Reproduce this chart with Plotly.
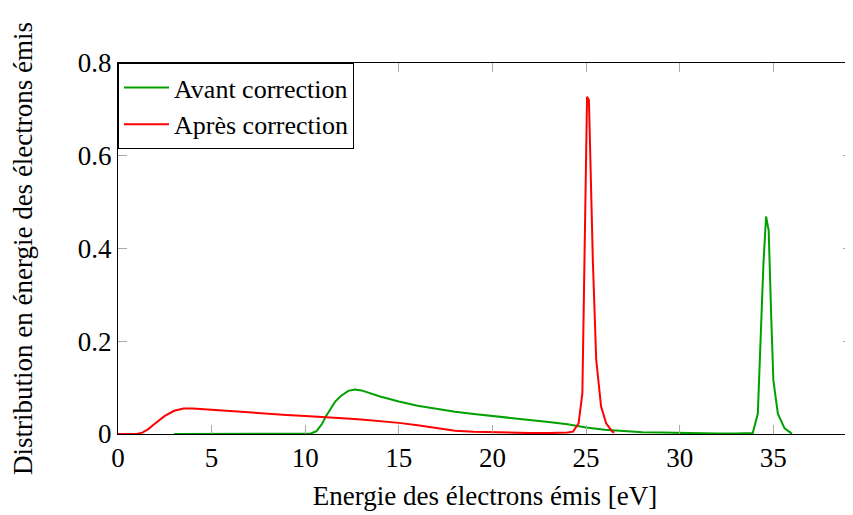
import plotly.graph_objects as go

# "Avant correction" (green)
avant_x = [3, 10, 10.3, 10.6, 10.9, 11.1, 11.3, 11.6, 11.9, 12.3, 12.65, 13, 14, 15, 16, 17,
           18, 19, 20, 21, 22, 23, 24, 25, 26, 27, 28, 29, 30, 31, 32, 33, 33.9,
           34.17, 34.31, 34.47, 34.61, 34.75, 34.88, 35.0, 35.24, 35.6, 35.95, 36.0]
avant_y = [0, 0, 0.001, 0.006, 0.022, 0.038, 0.052, 0.070, 0.082, 0.093, 0.096, 0.094, 0.081,
           0.070, 0.061, 0.054, 0.048, 0.043, 0.039, 0.034, 0.030, 0.026, 0.021, 0.014,
           0.009, 0.006, 0.004, 0.003, 0.002, 0.002, 0.001, 0.001, 0.002,
           0.044, 0.188, 0.367, 0.469, 0.439, 0.26, 0.116, 0.044, 0.012, 0.002, 0.001]

# "Après correction" (red)
apres_x = [0, 0.5, 1.0, 1.3, 1.6, 2.0, 2.5, 3.0, 3.5, 4, 5, 6, 7, 8, 9, 10, 11, 12, 13, 14,
           15, 16, 17, 18, 19, 20, 21, 22, 23, 24, 24.3, 24.6, 24.8, 24.88, 24.97, 25.05,
           25.15, 25.22, 25.36, 25.54, 25.8, 26.07, 26.4, 26.5]
apres_y = [0, 0, 0.0, 0.003, 0.01, 0.023, 0.039, 0.05, 0.055, 0.055, 0.052, 0.049, 0.046,
           0.043, 0.041, 0.039, 0.037, 0.034, 0.031, 0.028, 0.024, 0.019, 0.013, 0.007,
           0.005, 0.0035, 0.003, 0.002, 0.002, 0.003, 0.005, 0.023, 0.088, 0.302, 0.589,
           0.727, 0.72, 0.589, 0.374, 0.16, 0.059, 0.023, 0.005, 0.003]

x_ticks = [0, 5, 10, 15, 20, 25, 30, 35]
y_ticks = [0, 0.2, 0.4, 0.6, 0.8]
y_labels = ["0", "0.2", "0.4", "0.6", "0.8"]

FONT = "Liberation Serif"
FS = 27

fig = go.Figure()
fig.add_trace(go.Scatter(x=avant_x, y=avant_y, mode="lines", name="Avant correction",
                         line=dict(color="rgb(0,160,0)", width=2)))
fig.add_trace(go.Scatter(x=apres_x, y=apres_y, mode="lines", name="Après correction",
                         line=dict(color="rgb(255,0,0)", width=2)))

axis_common = dict(
    showgrid=False, zeroline=False, automargin=False,
    showline=True, linecolor="black", linewidth=1, mirror="allticks",
    ticks="inside", ticklen=9, tickcolor="#aaa", tickwidth=1,
    tickfont=dict(family=FONT, size=FS, color="black"),
)

# page body adds an 8px offset, so the figure is sized 8px smaller
fig.update_layout(
    width=845, height=507,
    margin=dict(l=110, r=1, t=55, b=81),
    paper_bgcolor="white", plot_bgcolor="white",
    font=dict(family=FONT, size=FS, color="black"),
    xaxis=dict(range=[0, 39.2], tickvals=x_ticks,
               title=dict(text="Energie des électrons émis [eV]", standoff=13,
                          font=dict(family=FONT, size=FS)),
               **axis_common),
    yaxis=dict(range=[0, 0.8], tickvals=y_ticks, ticktext=y_labels,
               title=dict(text="Distribution en énergie des électrons émis", standoff=40,
                          font=dict(family=FONT, size=FS)),
               **axis_common),
    legend=dict(x=0, y=1, xanchor="left", yanchor="top",
                bordercolor="black", borderwidth=1, bgcolor="white",
                font=dict(family=FONT, size=26), tracegroupgap=0, itemwidth=45),
    showlegend=True,
)

fig.write_html("out.html")
